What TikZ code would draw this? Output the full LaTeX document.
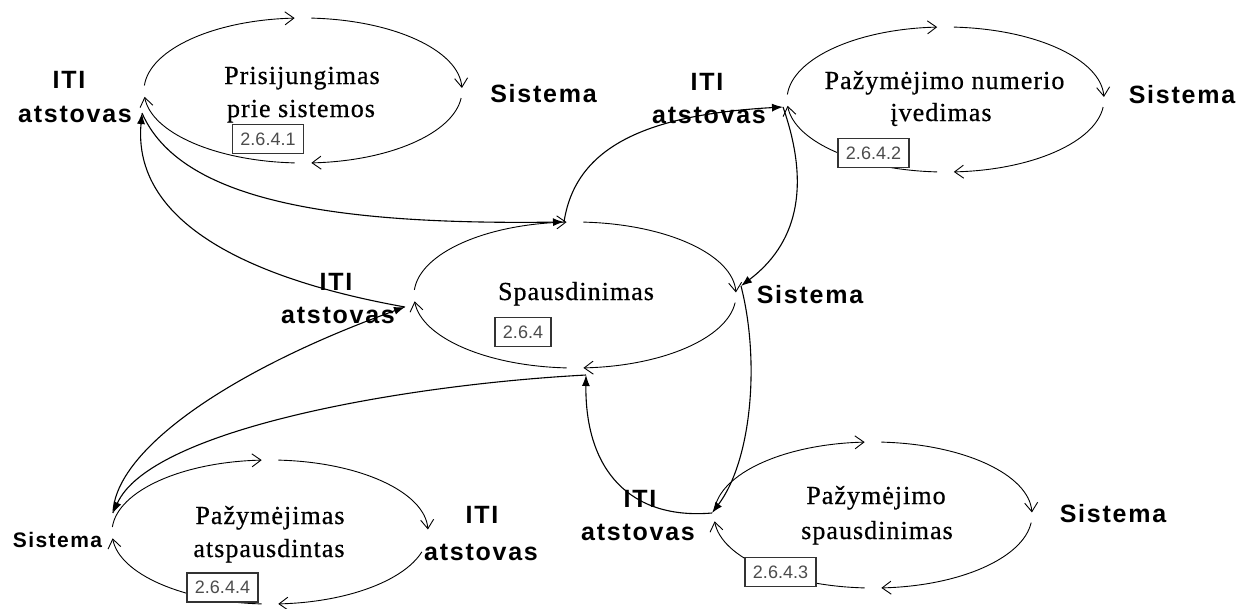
\documentclass[tikz,border=0pt]{standalone}
\usepackage{fontspec}
\setmainfont{Liberation Serif}
\newfontfamily\procfont[LetterSpace=4,FakeBold=0.6]{Liberation Serif}
\newfontfamily\lblfont[LetterSpace=7]{Liberation Sans}
\newfontfamily\idfont{Liberation Sans}
\usetikzlibrary{arrows.meta}

% one process: four quarter arcs running clockwise, each ending in an open tip
% #1,#2 centre  #3,#4 radii  #5 start angle of the lower right arc
\newcommand\procloop[5]{%
  \draw[arcline] ({#1+#3*cos(184)},{#2+#4*sin(184)}) arc[start angle=184,end angle=267,x radius=#3,y radius=#4];
  \draw[arcline] ({#1+#3*cos(273)},{#2+#4*sin(273)}) arc[start angle=273,end angle=358,x radius=#3,y radius=#4];
  \draw[arcline] ({#1+#3*cos(#5)},{#2+#4*sin(#5)}) arc[start angle=#5,end angle=87,x radius=#3,y radius=#4];
  \draw[arcline] ({#1+#3*cos(93)},{#2+#4*sin(93)}) arc[start angle=93,end angle=175,x radius=#3,y radius=#4];
}

\begin{document}
\begin{tikzpicture}[x=1pt,y=-1pt,
  arcline/.style={line width=0.9pt,-{Straight Barb[length=9pt,width=13pt,line width=0.9pt]}},
  flow/.style={line width=1.1pt,-{Latex[length=11pt,width=8pt]}},
  proctext/.style={font=\procfont\fontsize{26}{29}\selectfont, anchor=base, inner sep=0pt},
  actor/.style={font=\lblfont\bfseries\fontsize{25}{28}\selectfont, anchor=base, inner sep=0pt},
  smallactor/.style={font=\lblfont\bfseries\fontsize{21}{24}\selectfont, anchor=base, inner sep=0pt},
  idbox/.style={draw=black!80, line width=1.3pt, fill=white, font=\idfont\fontsize{18}{20}\selectfont,
    text=black!70, minimum height=29pt, inner xsep=8pt, inner ysep=0pt}
]
\useasboundingbox (0,0) rectangle (1236,608);

% attachment points of the flows
\coordinate (e1L) at (142,113);
\coordinate (cT)  at (564,222);
\coordinate (e2L) at (783,107);
\coordinate (cR)  at (741,286);
\coordinate (e3L) at (712,513);
\coordinate (cB)  at (586,375);
\coordinate (e4L) at (113,513);
\coordinate (cL)  at (405,307);

% flows between the sub-processes and the main process
\draw[flow] (e1L) .. controls (180,200) and (330,225) .. (cT);
\draw[flow] (cT)  .. controls (575,150) and (640,115) .. (e2L);
\draw[flow] (e2L) .. controls (812,190) and (795,245) .. (cR);
\draw[flow] (cR)  .. controls (760,360) and (752,460) .. (e3L);
\draw[flow] (e3L) .. controls (630,520) and (585,470) .. (cB);
\draw[flow] (cB)  .. controls (400,385) and (150,430) .. (e4L);
\draw[flow] (e4L) .. controls (115,450) and (230,370) .. (cL);
\draw[flow] (cL)  .. controls (310,290) and (130,245) .. (e1L);

% process loops
\procloop{303}{90.5}{159}{72.5}{6}
\procloop{945.5}{99.5}{158.5}{72.5}{6}
\procloop{575}{295}{161}{73}{6}
\procloop{873}{515}{159}{73}{6}
\procloop{270}{532}{158}{72}{16}

% process numbers
\node[idbox] (id1) at (268,139) {2.6.4.1};
\node[idbox] (id2) at (873.5,153) {2.6.4.2};
\node[idbox] (id0) at (523,332) {2.6.4};
\node[idbox] (id3) at (780.5,572) {2.6.4.3};
\node[idbox] (id4) at (222.5,587.5) {2.6.4.4};

% process names
\node[proctext] (p1a) at (302,84) {Prisijungimas};
\node[proctext] (p1b) at (301,117) {prie sistemos};
\node[proctext] (p2a) at (944.5,89) {Pažymėjimo numerio};
\node[proctext] (p2b) at (941,121) {įvedimas};
\node[proctext] (p0)  at (576,300) {Spausdinimas};
\node[proctext] (p3a) at (876,504) {Pažymėjimo};
\node[proctext] (p3b) at (877,539) {spausdinimas};
\node[proctext] (p4a) at (270,524) {Pažymėjimas};
\node[proctext] (p4b) at (269,557) {atspausdintas};

% actors
\node[actor] (a1a) at (69,88)   {ITI};
\node[actor] (a1b) at (75,122)  {atstovas};
\node[actor] (s1)  at (543.5,102) {Sistema};
\node[actor] (a2a) at (707,90)  {ITI};
\node[actor] (a2b) at (709,123) {atstovas};
\node[actor] (s2)  at (1182,103) {Sistema};
\node[actor] (a0a) at (336,290) {ITI};
\node[actor] (a0b) at (338,323) {atstovas};
\node[actor] (s0)  at (810,303) {Sistema};
\node[actor] (a3a) at (640,507) {ITI};
\node[actor] (a3b) at (638,540) {atstovas};
\node[actor] (s3)  at (1113,522) {Sistema};
\node[actor] (a4a) at (482,523) {ITI};
\node[actor] (a4b) at (481,560) {atstovas};
\node[smallactor] (s4) at (57.5,547) {Sistema};
\end{tikzpicture}
\end{document}
